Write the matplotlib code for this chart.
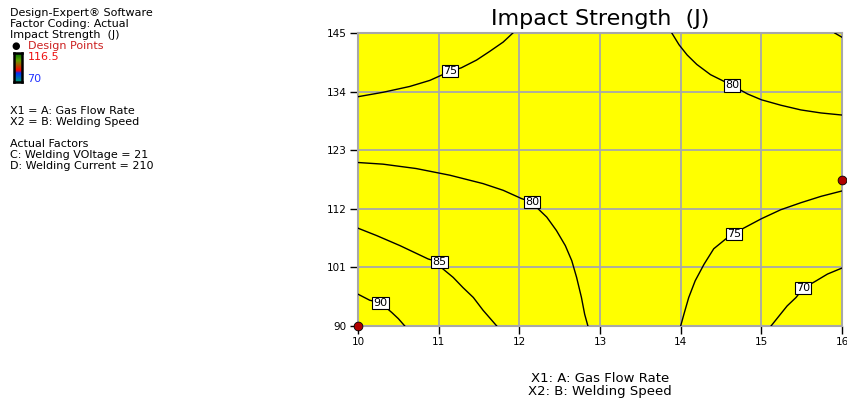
import numpy as np
import matplotlib.pyplot as plt
from matplotlib.colors import LinearSegmentedColormap

plt.rcParams['font.family'] = ['DejaVu Sans']

# axis ticks
x_ticks = [10, 11, 12, 13, 14, 15, 16]
y_ticks = [90, 101, 112, 123, 134, 145]

# contour lines (Gas Flow Rate, Welding Speed)
line_levels = [90, 85, 80, 75, 70, 75, 80, 85]
line_x = [
    [10.0, 10.145, 10.28, 10.42, 10.5, 10.58],
    [10.0, 10.23, 10.52, 10.87, 11.01, 11.03, 11.18, 11.3, 11.43, 11.55, 11.63, 11.72],
    [10.0, 10.31, 10.72, 11.14, 11.55, 11.8, 12.03, 12.16, 12.21, 12.34, 12.46, 12.57,
     12.65, 12.71, 12.77, 12.81, 12.85],
    [14.0, 14.04, 14.1, 14.18, 14.29, 14.41, 14.56, 14.66, 14.78, 15.0, 15.24, 15.49,
     15.74, 16.0],
    [15.12, 15.22, 15.32, 15.43, 15.52, 15.66, 15.82, 16.0],
    [10.0, 10.31, 10.64, 10.89, 11.14, 11.28, 11.47, 11.63, 11.8, 11.92],
    [13.89, 13.98, 14.08, 14.2, 14.37, 14.64, 14.83, 15.0, 15.24, 15.49, 15.74, 16.0],
    [15.91, 16.0],
]
line_y = [
    [95.97, 94.84, 94.34, 92.52, 91.38, 90.0],
    [108.36, 106.98, 105.09, 102.58, 101.95, 101.0, 99.12, 97.23, 95.35, 92.96, 91.57, 90.0],
    [120.69, 120.38, 119.56, 118.3, 116.73, 115.47, 113.9, 113.27, 112.33, 110.44, 107.92,
     105.09, 102.26, 99.12, 95.35, 92.2, 90.0],
    [90.0, 92.2, 95.35, 98.49, 101.6, 104.5, 106.35, 107.3, 108.36, 110.13, 111.82, 113.14,
     114.34, 115.35],
    [90.0, 91.89, 93.77, 95.35, 97.1, 98.3, 99.75, 100.88],
    [133.04, 133.87, 134.96, 136.1, 137.8, 138.46, 139.92, 141.52, 143.3, 145.0],
    [145.0, 142.79, 140.88, 139.1, 137.18, 135.15, 133.55, 132.47, 131.45, 130.56, 129.99,
     129.6],
    [145.0, 144.2],
]
# index of the point on each line that carries the level label (None = no label)
label_at = [2, 4, 7, 7, 4, 4, 5, None]

# design points
pt_x = [10, 16]
pt_y = [90, 117.5]

fig = plt.figure(figsize=(8.47, 4.03), dpi=100)
W, H = 847, 403

ax = fig.add_axes([358 / W, 1 - 326 / H, 484 / W, 293 / H])
ax.set_facecolor('#ffff00')
ax.set_xlim(10, 16)
ax.set_ylim(90, 145)
ax.set_xticks(x_ticks)
ax.set_yticks(y_ticks)
ax.grid(True, color='#a8a8a8', lw=1.3)
ax.set_axisbelow(True)
for s in ax.spines.values():
    s.set_color('#a8a8a8')
    s.set_linewidth(1.5)
ax.tick_params(length=6, width=1, color='black', labelsize=7.5, pad=2)

for lev, xs, ys, li in zip(line_levels, line_x, line_y, label_at):
    ax.plot(xs, ys, color='black', lw=1.0, zorder=3)
    if li is not None:
        ax.text(xs[li], ys[li], str(lev), fontsize=8, ha='center', va='center', zorder=5,
                bbox=dict(boxstyle='square,pad=0.1', fc='white', ec='black', lw=0.8))

ax.scatter(pt_x, pt_y, s=40, marker='o', facecolor='#b00000', edgecolor='black',
           linewidth=0.6, zorder=6, clip_on=False)

fig.text(600 / W, 1 - 19 / H, 'Impact Strength  (J)', fontsize=16, ha='center', va='center')
fig.text(600 / W, 1 - 379 / H, 'X1: A: Gas Flow Rate', fontsize=9.5, ha='center', va='center')
fig.text(600 / W, 1 - 392 / H, 'X2: B: Welding Speed', fontsize=9.5, ha='center', va='center')

# left info block
left = 10 / W
info = [
    ('Design-Expert® Software', 13),
    ('Factor Coding: Actual', 24),
    ('Impact Strength  (J)', 35),
    ('X1 = A: Gas Flow Rate', 111),
    ('X2 = B: Welding Speed', 122),
    ('Actual Factors', 144),
    ('C: Welding VOltage = 21', 155),
    ('D: Welding Current = 210', 166),
]
for txt, yp in info:
    fig.text(left, 1 - yp / H, txt, fontsize=8, color='black', va='center')

fig.text(28 / W, 1 - 46 / H, 'Design Points', fontsize=8, color='#cc2020', va='center')
fig.text(16 / W, 1 - 46 / H, '●', fontsize=7, color='black', va='center', ha='center')
fig.text(28 / W, 1 - 57 / H, '116.5', fontsize=8, color='#ee1111', va='center')
fig.text(27 / W, 1 - 79 / H, '70', fontsize=8, color='#2233ff', va='center')

cax = fig.add_axes([14 / W, 1 - 82 / H, 8 / W, 29 / H])
cmap = LinearSegmentedColormap.from_list(
    'de', [(0, '#00a070'), (0.3, '#0030ff'), (0.4, '#ff0000'), (0.75, '#60a000'), (1, '#007000')])
cax.imshow(np.linspace(0, 1, 60).reshape(-1, 1), aspect='auto', cmap=cmap, origin='lower')
cax.set_xticks([])
cax.set_yticks([])
for s in cax.spines.values():
    s.set_linewidth(1.8)

fig.savefig('out.png', dpi=100)
